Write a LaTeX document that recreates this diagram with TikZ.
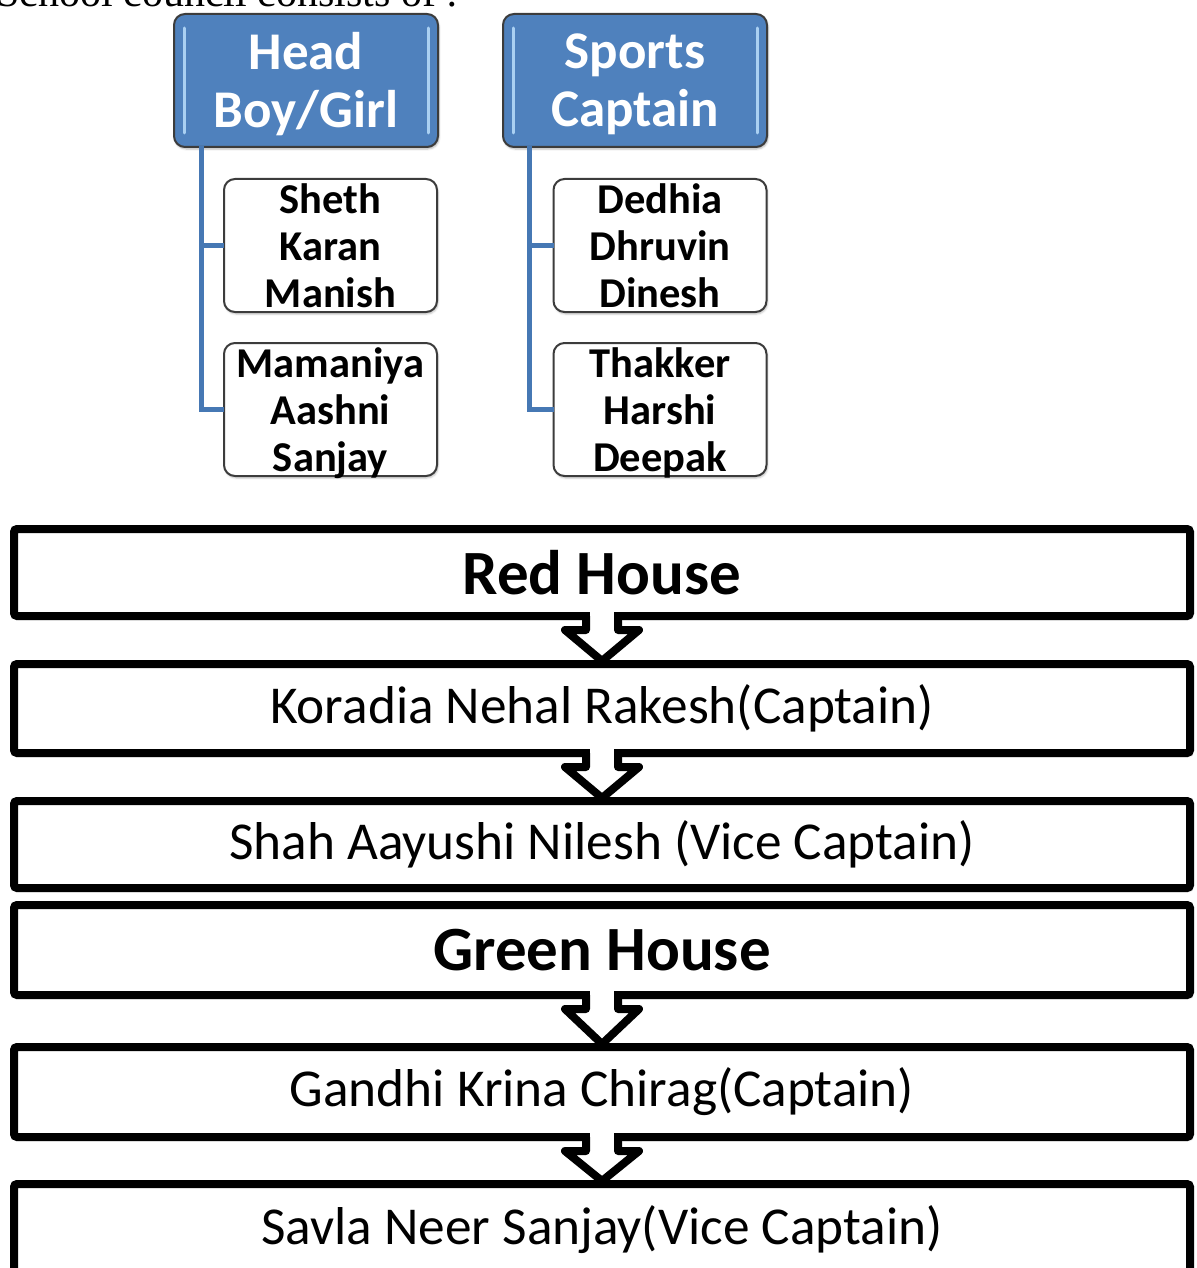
\documentclass[tikz,border=0pt]{standalone}
\usepackage{fontspec}
\setmainfont{Carlito}
\newfontfamily\topserif{Liberation Serif}
\usetikzlibrary{calc,shadows.blur}
\definecolor{hdblue}{RGB}{79,129,189}
\definecolor{lnblue}{RGB}{70,120,180}
\definecolor{hilite}{RGB}{170,208,242}
\definecolor{frame}{RGB}{60,60,60}
\tikzset{
  bigbox/.style={draw=black, line width=8pt, fill=white, rounded corners=3pt,
    minimum width=1176pt, inner sep=0pt, outer sep=0pt, anchor=center,
    blur shadow={shadow xshift=2pt, shadow yshift=-3pt, shadow opacity=25, shadow blur steps=6}},
  bigbold/.style={font=\fontsize{63}{70}\selectfont\bfseries},
  bigreg/.style={font=\fontsize{53.3}{60}\selectfont},
  headbox/.style={draw=frame, line width=2pt, fill=hdblue, rounded corners=11pt,
    minimum width=264pt, minimum height=133pt, inner sep=0pt, outer sep=0pt,
    blur shadow={shadow xshift=1pt, shadow yshift=-2pt, shadow opacity=30, shadow blur steps=4}},
  headtext/.style={text=white, align=center, inner sep=0pt, font=\fontsize{53}{58}\selectfont\bfseries},
  childbox/.style={draw=frame, line width=2pt, fill=white, rounded corners=11pt,
    minimum width=213pt, minimum height=133pt, inner sep=0pt, outer sep=0pt,
    blur shadow={shadow xshift=1pt, shadow yshift=-2pt, shadow opacity=25, shadow blur steps=4}},
  childtext/.style={text=black, align=center, inner sep=0pt, anchor=base,
    font=\fontsize{42.5}{47}\selectfont\bfseries},
  conn/.style={draw=lnblue, line width=5pt},
  hl/.style={draw=hilite, line width=3pt, line cap=round},
  arrowline/.style={draw=black, fill=white, line width=8pt, line join=round},
}
\newcommand\blockarrow[2]{%
  \fill[white] ($(#1.south)+(-12,-5)$) rectangle ($(#1.south)+(12,6)$);
  \filldraw[arrowline] ($(#1.south)+(-16,0)$) -- ($(#1.south)+(-16,14)$) -- ($(#1.south)+(-37,14)$)
    -- ($(#2.north)+(0,-3)$) -- ($(#1.south)+(37,14)$) -- ($(#1.south)+(16,14)$) -- ($(#1.south)+(16,0)$);
}
\begin{document}
\begin{tikzpicture}[x=1pt,y=-1pt]
\useasboundingbox (0,0) rectangle (1196,1268);
% cut-off heading text
\node[anchor=base west, inner sep=0pt, font=\topserif\fontsize{42}{48}\selectfont] (title) at (-4,7) {School council consists of :};

% head boxes
\node[headbox] (head) at (306,80.5) {};
\node[headbox] (sports) at (635,80.5) {};
\node[headtext] (headt) at ($(head)+(0,4)$) {Head\\Boy/Girl};
\node[headtext] (sportst) at ($(sports)+(0,4)$) {Sports\\Captain};
\foreach \n in {head,sports}{
  \draw[hl] ($(\n.north west)+(10,14)$) -- ($(\n.south west)+(10,-14)$);
  \draw[hl] ($(\n.north east)+(-10,14)$) -- ($(\n.south east)+(-10,-14)$);
}

% children
\node[childbox] (h1) at (330.5,245.5) {};
\node[childbox] (h2) at (330.5,409.5) {};
\node[childbox] (s1) at (660,245.5) {};
\node[childbox] (s2) at (660,409.5) {};
\node[childtext] (h1t) at ($(h1)+(0,61.5)$) {Sheth\\Karan\\Manish};
\node[childtext] (h2t) at ($(h2)+(0,61.5)$) {Mamaniya\\Aashni\\Sanjay};
\node[childtext] (s1t) at ($(s1)+(0,61.5)$) {Dedhia\\Dhruvin\\Dinesh};
\node[childtext] (s2t) at ($(s2)+(0,61.5)$) {Thakker\\Harshi\\Deepak};

\draw[conn] ($(head.south west)+(27,-1)$) |- (h1.west);
\draw[conn] ($(head.south west)+(27,-1)$) |- (h2.west);
\draw[conn] ($(sports.south west)+(26,-1)$) |- (s1.west);
\draw[conn] ($(sports.south west)+(26,-1)$) |- (s2.west);

% house boxes
\node[bigbox, minimum height=87pt, bigbold] (red) at (602,572.5) {Red House};
\node[bigbox, minimum height=89pt, bigreg] (kor) at (602,708.5) {Koradia Nehal Rakesh(Captain)};
\node[bigbox, minimum height=87pt, bigreg] (shah) at (602,844.5) {Shah Aayushi Nilesh (Vice Captain)};
\node[bigbox, minimum height=90pt, bigbold] (green) at (602,950) {Green House};
\node[bigbox, minimum height=90pt, bigreg] (gan) at (602,1092) {Gandhi Krina Chirag(Captain)};
\node[bigbox, minimum height=92pt, bigreg, text height=40pt, text depth=12pt] (savla) at (602,1230) {Savla Neer Sanjay(Vice Captain)};

\blockarrow{red}{kor}
\blockarrow{kor}{shah}
\blockarrow{green}{gan}
\blockarrow{gan}{savla}
\end{tikzpicture}
\end{document}
